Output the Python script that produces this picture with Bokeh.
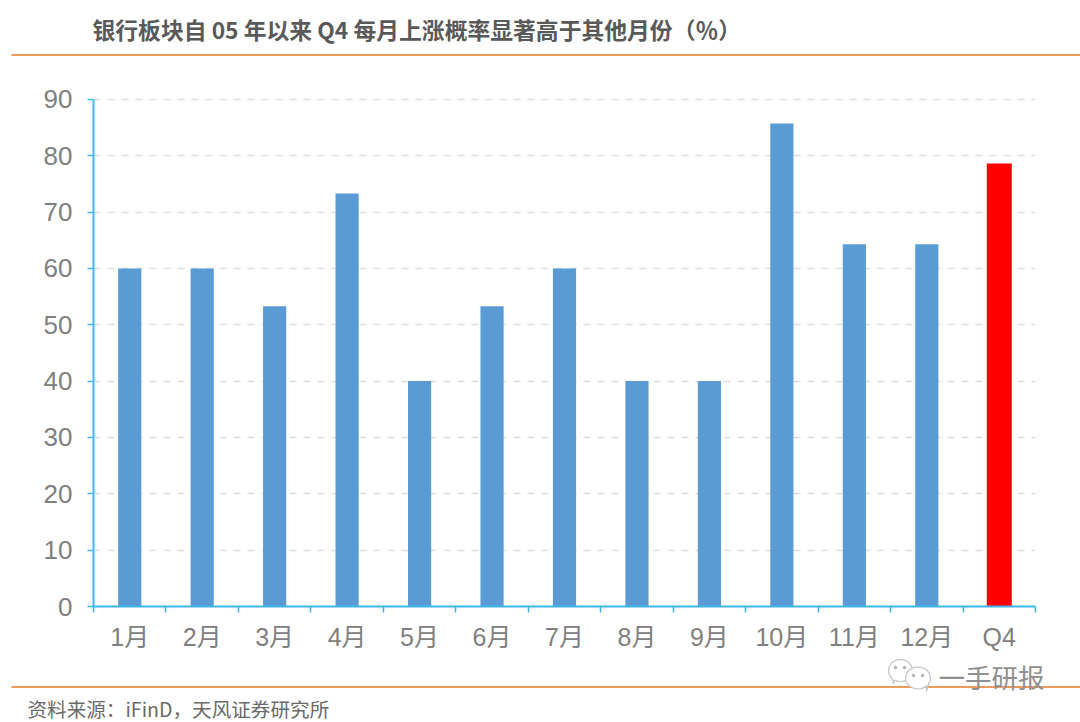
import math
from bokeh.plotting import figure
from bokeh.layouts import column
from bokeh.embed import file_html
from bokeh.resources import INLINE
from bokeh.models import Range1d, FixedTicker, Label

categories = ["1月", "2月", "3月", "4月", "5月", "6月", "7月", "8月", "9月", "10月", "11月", "12月", "Q4"]
values = [60, 60, 53.3, 73.3, 40, 53.3, 60, 40, 40, 85.7, 64.3, 64.3, 78.6]
y_ticks = [0, 10, 20, 30, 40, 50, 60, 70, 80, 90]
title_text = "银行板块自 05 年以来 Q4 每月上涨概率显著高于其他月份（％）"
source_text = "资料来源：iFinD，天风证券研究所"
watermark_text = "一手研报"

W, H = 1080, 722
TOP_H, BOTTOM_H = 60, 66
MAIN_H = H - TOP_H - BOTTOM_H
FONT = "'Liberation Sans', 'Noto Sans CJK SC', sans-serif"
CJK = "'Noto Sans CJK SC', 'Liberation Sans', sans-serif"
TICK_COLOR = "#808080"
AXIS_COLOR = "#3fb6e8"
RULE = "#ee9a5e"

positions = list(range(1, len(categories) + 1))

def strip(height):
    s = figure(width=W, height=height, output_backend="svg", toolbar_location=None,
               x_range=Range1d(0, W), y_range=Range1d(height, 0),
               min_border_left=0, min_border_right=0, min_border_top=0, min_border_bottom=0,
               x_axis_type=None, y_axis_type=None, frame_align=False)
    s.outline_line_color = None
    s.xgrid.visible = False
    s.ygrid.visible = False
    return s

def text(s, x, y, t, size, color, style="normal"):
    s.add_layout(Label(x=x, y=y, text=t, text_font=CJK, text_font_size=size, text_color=color,
                       text_font_style=style, text_align="left", text_baseline="middle"))

top = strip(TOP_H)
top.segment(x0=[11], y0=[54.5], x1=[W], y1=[54.5], line_color=RULE, line_width=2)
text(top, 92, 29, title_text, "22.8px", "#595959", "bold")

p = figure(width=W, height=MAIN_H, output_backend="svg", toolbar_location=None,
           x_range=Range1d(0.5, len(categories) + 0.5), y_range=Range1d(0, 90.5),
           min_border_left=93, min_border_right=W - 1035,
           min_border_top=96 - TOP_H, min_border_bottom=TOP_H + MAIN_H - 606,
           frame_align=False)
p.outline_line_color = None
p.background_fill_color = "white"
p.border_fill_color = "white"

p.vbar(x=positions[:-1], top=values[:-1], width=0.32, bottom=0, color="#5b9bd5", line_color=None)
p.vbar(x=positions[-1:], top=values[-1:], width=0.345, bottom=0, color="#ff0000", line_color=None)

xa = p.xaxis[0]
xa.ticker = FixedTicker(ticks=positions, minor_ticks=[i + 0.5 for i in range(0, len(categories) + 1)])
xa.major_label_overrides = {i: c for i, c in zip(positions, categories)}
xa.major_tick_out = 0
xa.major_tick_in = 0
xa.minor_tick_out = 6
xa.minor_tick_in = 0
xa.minor_tick_line_color = AXIS_COLOR
xa.minor_tick_line_width = 1.5
xa.axis_line_color = AXIS_COLOR
xa.axis_line_width = 2
xa.major_label_standoff = 10
xa.major_label_text_font = FONT
xa.major_label_text_font_size = "25px"
xa.major_label_text_color = TICK_COLOR

ya = p.yaxis[0]
ya.ticker = FixedTicker(ticks=y_ticks)
ya.bounds = (0, 90)
ya.major_tick_out = 6
ya.major_tick_in = 0
ya.minor_tick_out = 0
ya.minor_tick_in = 0
ya.major_tick_line_color = AXIS_COLOR
ya.major_tick_line_width = 1.5
ya.axis_line_color = AXIS_COLOR
ya.axis_line_width = 2
ya.major_label_standoff = 15
ya.major_label_text_font = FONT
ya.major_label_text_font_size = "26px"
ya.major_label_text_color = TICK_COLOR

p.xgrid.visible = False
p.ygrid.ticker = FixedTicker(ticks=y_ticks)
p.ygrid.grid_line_color = "#dedede"
p.ygrid.grid_line_dash = [7, 7]
p.ygrid.grid_line_width = 1.5

OFF = TOP_H + MAIN_H
bottom = strip(BOTTOM_H)
bottom.segment(x0=[11], y0=[686.5 - OFF], x1=[W], y1=[686.5 - OFF], line_color=RULE, line_width=2)

def bubble(cx, cy, rx, ry, tail):
    pts = [(cx + rx * math.cos(t / 24 * 2 * math.pi), cy + ry * math.sin(t / 24 * 2 * math.pi)) for t in range(24)]
    pts.insert(tail[0], tail[1])
    bottom.patch([a for a, _ in pts], [b - OFF for _, b in pts], fill_color="white", line_color="#c4c4c4", line_width=1.2)

bubble(900, 670, 12, 11, (9, (893, 683)))
bubble(917.5, 677.5, 12.5, 11, (3, (926, 691)))
bottom.scatter(x=[895, 904, 913, 922], y=[y - OFF for y in (667, 667, 675, 675)], size=2.5, color="#b0b0b0")
text(bottom, 27, 708 - OFF, source_text, "19.6px", "#6a6a6a")
text(bottom, 938, 676 - OFF, watermark_text, "26.5px", "#8f8f8f")

page = column(top, p, bottom, spacing=0)
open("out.html", "w").write(file_html(page, INLINE))
